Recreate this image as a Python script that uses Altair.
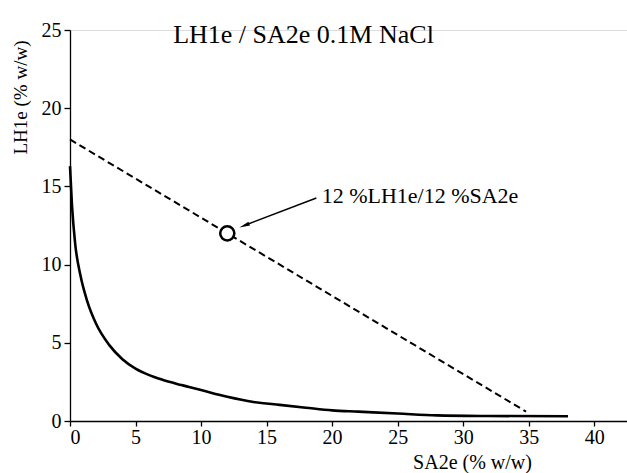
import altair as alt
import pandas as pd

# Solid curve (phase boundary)
curve_x = [0, 0.15, 0.4, 0.8, 1.3, 2.0, 3.0, 4.0, 5.0, 6.0, 7.0, 8.5, 10.0, 12.0, 14.0, 16.0, 18.0, 20.0, 22.0, 25.0, 28.0, 32.0, 38.0]
curve_y = [16.3, 13.8, 11.3, 9.3, 7.7, 6.2, 4.85, 3.95, 3.35, 2.95, 2.65, 2.3, 1.98, 1.55, 1.22, 1.03, 0.85, 0.68, 0.6, 0.48, 0.36, 0.32, 0.3]

# Dashed dilution line
dash_x = [0, 34.8]
dash_y = [18.0, 0.6]

# Marked composition
point_x = [12]
point_y = [12]

# Annotation
label_text = ["12 %LH1e/12 %SA2e"]
label_x = [19.2]
label_y = [14.4]
arrow_x = [18.8]
arrow_y = [14.26]
arrow_x2 = [13.3]
arrow_y2 = [12.5]

x_ticks = [i * 2.5 for i in range(18)]
y_ticks = [i * 2.5 for i in range(11)]

FONT = "Liberation Serif"

curve_df = pd.DataFrame({"x": curve_x, "y": curve_y})
dash_df = pd.DataFrame({"x": dash_x, "y": dash_y})
point_df = pd.DataFrame({"x": point_x, "y": point_y})
label_df = pd.DataFrame({"x": label_x, "y": label_y, "t": label_text})
arrow_df = pd.DataFrame({"x": arrow_x, "y": arrow_y, "x2": arrow_x2, "y2": arrow_y2})

xs = alt.Scale(domain=[0, 42.5], nice=False, zero=False)
ys = alt.Scale(domain=[0, 25], nice=False, zero=False)

x_axis = alt.Axis(
    values=x_ticks,
    labelExpr="datum.value % 5 == 0 ? datum.label : ''",
    title="SA2e (% w/w)",
    titleX=402, titleY=31, titleAnchor="start", titleAlign="center", titleBaseline="top",
    titleFont=FONT, titleFontSize=20, titleFontWeight="normal", titleColor="black",
    labelFont=FONT, labelFontSize=20, labelColor="black", labelPadding=1,
    tickSize=5, tickColor="black", domainColor="black", domainWidth=1.3, tickWidth=1.3,
    grid=False,
)
y_axis = alt.Axis(
    values=y_ticks,
    labelExpr="datum.value % 5 == 0 ? datum.label : ''",
    title="LH1e (% w/w)",
    titleX=-50, titleY=67, titleAngle=270, titleAlign="center", titleBaseline="middle", titleAnchor="start",
    titleFont=FONT, titleFontSize=19, titleFontWeight="normal", titleColor="black",
    labelFont=FONT, labelFontSize=20, labelColor="black", labelPadding=3,
    tickSize=6, tickColor="black", domainColor="black", domainWidth=1.3, tickWidth=1.3,
    grid=False,
)

base_x = alt.X("x:Q", scale=xs, axis=x_axis)
base_y = alt.Y("y:Q", scale=ys, axis=y_axis)

curve = alt.Chart(curve_df).mark_line(color="black", strokeWidth=2.6, interpolate="monotone").encode(
    x=base_x, y=base_y
)
dashed = alt.Chart(dash_df).mark_line(color="black", strokeWidth=2, strokeDash=[7, 4]).encode(
    x=alt.X("x:Q", scale=xs), y=alt.Y("y:Q", scale=ys)
)
circle = alt.Chart(point_df).mark_point(
    shape="circle", size=200, filled=True, fill="white", stroke="black", strokeWidth=2.5, opacity=1
).encode(x=alt.X("x:Q", scale=xs), y=alt.Y("y:Q", scale=ys))
arrow_line = alt.Chart(arrow_df).mark_rule(color="black", strokeWidth=1.5).encode(
    x=alt.X("x:Q", scale=xs), y=alt.Y("y:Q", scale=ys), x2="x2:Q", y2="y2:Q"
)
arrow_head = alt.Chart(arrow_df).mark_point(
    shape="M -1 0 L 1 -0.4 L 1 0.4 Z", size=110, filled=True, color="black", opacity=1, angle=339
).encode(x=alt.X("x2:Q", scale=xs), y=alt.Y("y2:Q", scale=ys))
label = alt.Chart(label_df).mark_text(
    font=FONT, fontSize=22, align="left", baseline="middle", color="black"
).encode(x=alt.X("x:Q", scale=xs), y=alt.Y("y:Q", scale=ys), text="t:N")

chart = (
    alt.layer(curve, dashed, circle, arrow_line, arrow_head, label)
    .properties(
        width=557,
        height=391,
        padding={"left": 70, "top": 30, "right": 0, "bottom": 52},
        autosize=alt.AutoSizeParams(type="none"),
        title=alt.TitleParams(
            "LH1e / SA2e 0.1M NaCl", font=FONT, fontSize=26, fontWeight="normal",
            color="black", anchor="middle", dx=-45, dy=41, offset=0, baseline="middle",
        ),
    )
    .configure_axis(labelFont=FONT, titleFont=FONT)
    .configure_title(font=FONT)
    .configure_text(font=FONT)
    .configure_view(stroke=None)
    .configure(background="white")
)

chart.save("out.html", embed_options={"renderer": "svg", "actions": False})
